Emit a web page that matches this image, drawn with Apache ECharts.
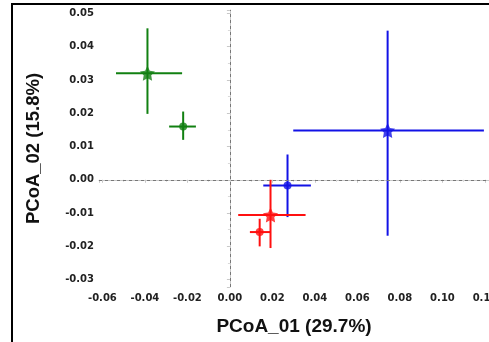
<!DOCTYPE html>
<html>
<head>
<meta charset="utf-8">
<script src="https://cdn.jsdelivr.net/npm/echarts@6/dist/echarts.min.js"></script>
<style>
  html, body { margin: 0; padding: 0; background: #fff; }
  #chart { width: 489px; height: 342px; }
</style>
</head>
<body>
<div id="chart"></div>
<script>
// group means and error-bar extents
const groups = ["green star", "green dot", "blue star", "blue dot", "red star", "red dot"];
const xMean = [-0.0388, -0.0220, 0.0742, 0.0271, 0.0191, 0.0140];
const yMean = [0.0320, 0.0160, 0.0148, -0.0017, -0.0106, -0.0157];
const xLow  = [-0.0536, -0.0286, 0.0298, 0.0157, 0.0039, 0.0094];
const xHigh = [-0.0225, -0.0160, 0.1195, 0.0381, 0.0356, 0.0193];
const yLow  = [0.0198, 0.0120, -0.0168, -0.0112, -0.0205, -0.0200];
const yHigh = [0.0455, 0.0205, 0.0448, 0.0076, 0.0000, -0.0117];
const markers = ["star", "dot", "star", "dot", "star", "dot"];

const colorOf = { green: "#118011", blue: "#1212e6", red: "#ff1010" };

// five-point star as an svg path
function starPath() {
  let d = "";
  for (let k = 0; k < 10; k++) {
    const r = k % 2 === 0 ? 1 : 0.5;
    const a = (-90 + k * 36) * Math.PI / 180;
    d += (k === 0 ? "M" : "L") + (r * Math.cos(a)).toFixed(3) + "," + (r * Math.sin(a)).toFixed(3);
  }
  return "path://" + d + "Z";
}
const STAR = starPath();

const myChart = echarts.init(document.getElementById("chart"));

const axisText = { color: "#222", fontSize: 10, fontWeight: "bold", fontFamily: "DejaVu Sans" };
const titleText = { color: "#111", fontWeight: "bold", fontFamily: "Liberation Sans" };

const barData = groups.map((g, i) => [xMean[i], yMean[i], xLow[i], xHigh[i], yLow[i], yHigh[i], g.split(" ")[0]]);
const pointData = groups.map((g, i) => ({
  value: [xMean[i], yMean[i]],
  symbol: markers[i] === "star" ? STAR : "circle",
  symbolSize: markers[i] === "star" ? 15 : 8,
  itemStyle: { color: colorOf[g.split(" ")[0]] },
}));

const option = {
  animation: false,
  grid: { left: 99, top: 10, right: 0, bottom: 55, outerBoundsMode: "none", containLabel: false },
  graphic: [
    {
      type: "rect",
      shape: { x: 12, y: 4, width: 520, height: 400 },
      style: { fill: "none", stroke: "#000", lineWidth: 2 },
      silent: true,
    },
  ],
  xAxis: {
    type: "value",
    min: -0.0616,
    max: 0.1219,
    splitNumber: 10,
    name: "PCoA_01 (29.7%)",
    nameLocation: "middle",
    nameGap: 30,
    nameTextStyle: { ...titleText, fontSize: 19 },
    axisLine: { lineStyle: { color: "#c8c8c8" } },
    axisTick: { length: 3, lineStyle: { color: "#c8c8c8" } },
    minorTick: { show: true, splitNumber: 2, length: 2, lineStyle: { color: "#d8d8d8" } },
    splitLine: { show: false },
    axisLabel: { ...axisText, margin: 6, showMinLabel: false, hideOverlap: false,
      formatter: v => (Math.abs(v / 0.02 - Math.round(v / 0.02)) < 1e-6 ? v.toFixed(2) : "") },
  },
  yAxis: {
    type: "value",
    min: -0.0322,
    max: 0.051,
    splitNumber: 8,
    name: "PCoA_02 (15.8%)",
    nameLocation: "middle",
    nameGap: 56,
    nameRotate: 90,
    nameTextStyle: { ...titleText, fontSize: 18.5 },
    axisLine: { show: true, lineStyle: { color: "#c8c8c8" } },
    axisTick: { show: true, length: 3, lineStyle: { color: "#c8c8c8" } },
    minorTick: { show: true, splitNumber: 2, length: 2, lineStyle: { color: "#d8d8d8" } },
    splitLine: { show: false },
    axisLabel: { ...axisText, margin: 5, showMinLabel: false, showMaxLabel: false,
      formatter: v => v.toFixed(2) },
  },
  series: [
    {
      type: "custom",
      data: barData,
      z: 2,
      renderItem: (params, api) => {
        const c = colorOf[barData[params.dataIndex][6]];
        const y = api.value(1), x = api.value(0);
        const a = api.coord([api.value(2), y]);
        const b = api.coord([api.value(3), y]);
        const p = api.coord([x, api.value(4)]);
        const q = api.coord([x, api.value(5)]);
        const style = { stroke: c, lineWidth: 2 };
        return {
          type: "group",
          children: [
            { type: "line", shape: { x1: a[0], y1: a[1], x2: b[0], y2: b[1] }, style },
            { type: "line", shape: { x1: p[0], y1: p[1], x2: q[0], y2: q[1] }, style },
          ],
        };
      },
    },
    {
      type: "scatter",
      data: pointData,
      z: 3,
      markLine: {
        silent: true,
        symbol: "none",
        label: { show: false },
        lineStyle: { color: "#777", type: [3, 3], width: 1 },
        data: [{ xAxis: 0 }, { yAxis: 0 }],
      },
    },
  ],
};

myChart.setOption(option);
</script>
</body>
</html>
